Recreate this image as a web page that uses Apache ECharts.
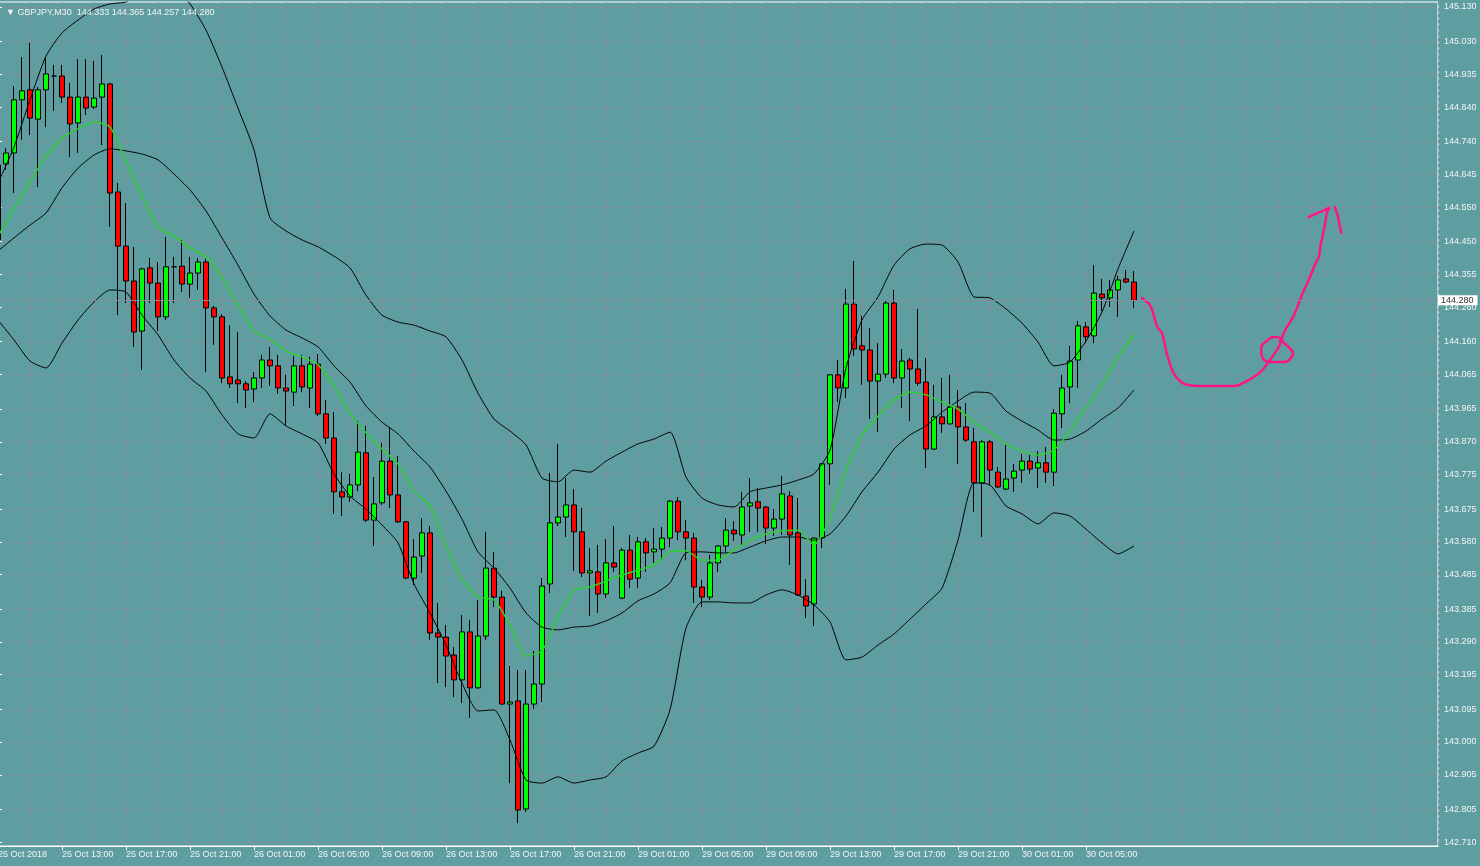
<!DOCTYPE html>
<html>
<head>
<meta charset="utf-8">
<title>GBPJPY,M30</title>
<script src="https://cdn.jsdelivr.net/npm/echarts@6/dist/echarts.min.js"></script>
<style>
  html, body { margin: 0; padding: 0; background: #5f9ea0; }
  #chart { width: 1480px; height: 866px; }
</style>
</head>
<body>
<div id="chart"></div>
<script>
// time labels, one every 8 bars (M30)
var timeLabels = ['25 Oct 2018', '25 Oct 13:00', '25 Oct 17:00', '25 Oct 21:00', '26 Oct 01:00', '26 Oct 05:00',
  '26 Oct 09:00', '26 Oct 13:00', '26 Oct 17:00', '26 Oct 21:00', '29 Oct 01:00', '29 Oct 05:00',
  '29 Oct 09:00', '29 Oct 13:00', '29 Oct 17:00', '29 Oct 21:00', '30 Oct 01:00', '30 Oct 05:00'];

// [open, close, low, high]
var candles = [
  [144.455,144.672,144.348,144.687],[144.675,144.707,144.658,144.721],[144.707,144.861,144.591,144.901],
  [144.861,144.887,144.745,144.985],[144.890,144.808,144.759,145.026],[144.805,144.890,144.608,144.898],
  [144.890,144.936,144.782,144.982],[144.930,144.930,144.829,144.962],[144.930,144.869,144.852,144.962],
  [144.869,144.791,144.695,144.910],[144.794,144.869,144.707,144.979],[144.869,144.837,144.817,144.979],
  [144.840,144.866,144.834,144.974],[144.869,144.907,144.730,144.991],[144.907,144.591,144.493,144.910],
  [144.594,144.437,144.237,144.620],[144.437,144.336,144.272,144.562],[144.336,144.188,144.145,144.435],
  [144.191,144.371,144.078,144.374],[144.374,144.330,144.272,144.403],[144.330,144.232,144.191,144.391],
  [144.232,144.377,144.223,144.464],[144.377,144.377,144.272,144.406],[144.379,144.327,144.304,144.455],
  [144.327,144.359,144.287,144.406],[144.359,144.391,144.310,144.403],[144.391,144.258,144.072,144.400],
  [144.258,144.232,144.151,144.264],[144.232,144.055,144.040,144.240],[144.058,144.038,144.026,144.208],
  [144.049,144.038,143.982,144.188],[144.038,144.020,143.968,144.046],[144.023,144.055,143.985,144.072],
  [144.055,144.107,144.026,144.122],[144.107,144.090,144.032,144.145],[144.090,144.026,144.009,144.122],
  [144.026,144.017,143.916,144.064],[144.014,144.090,143.974,144.119],[144.090,144.029,144.014,144.122],
  [144.026,144.095,143.968,144.116],[144.095,143.951,143.945,144.124],[143.951,143.881,143.864,143.991],
  [143.881,143.725,143.661,143.956],[143.725,143.710,143.655,143.782],[143.710,143.745,143.696,143.777],
  [143.745,143.840,143.727,143.930],[143.838,143.643,143.638,143.916],[143.643,143.690,143.568,143.768],
  [143.693,143.814,143.687,143.867],[143.814,143.716,143.678,143.913],[143.716,143.638,143.635,143.829],
  [143.638,143.475,143.472,143.640],[143.475,143.536,143.455,143.588],[143.539,143.606,143.490,143.649],
  [143.606,143.316,143.296,143.626],[143.316,143.304,143.171,143.403],[143.304,143.249,143.159,143.339],
  [143.252,143.180,143.130,143.275],[143.180,143.319,143.113,143.368],[143.319,143.157,143.070,143.354],
  [143.157,143.307,143.154,143.412],[143.307,143.504,143.296,143.609],[143.504,143.420,143.391,143.551],
  [143.420,143.110,143.108,143.438],[143.110,143.116,142.881,143.220],[143.119,142.803,142.765,143.209],
  [142.806,143.110,142.797,143.209],[143.110,143.168,143.096,143.264],[143.168,143.452,143.116,143.475],
  [143.458,143.635,143.432,143.780],[143.635,143.652,143.626,143.864],[143.652,143.687,143.594,143.765],
  [143.687,143.609,143.496,143.733],[143.609,143.490,143.478,143.678],[143.490,143.496,143.365,143.562],
  [143.493,143.429,143.374,143.571],[143.429,143.519,143.417,143.588],[143.519,143.507,143.493,143.626],
  [143.417,143.556,143.414,143.562],[143.556,143.472,143.446,143.600],[143.475,143.580,143.446,143.594],
  [143.580,143.548,143.493,143.591],[143.551,143.559,143.519,143.620],[143.559,143.591,143.527,143.623],
  [143.591,143.698,143.565,143.701],[143.698,143.609,143.585,143.710],[143.609,143.591,143.527,143.643],
  [143.591,143.449,143.403,143.606],[143.449,143.420,143.391,143.470],[143.420,143.519,143.412,143.542],
  [143.519,143.568,143.493,143.570],[143.568,143.614,143.551,143.649],[143.614,143.603,143.583,143.640],
  [143.600,143.681,143.568,143.725],[143.684,143.693,143.609,143.765],[143.696,143.678,143.609,143.736],
  [143.681,143.620,143.574,143.684],[143.620,143.646,143.597,143.675],[143.646,143.719,143.600,143.771],
  [143.713,143.600,143.513,143.727],[143.606,143.426,143.424,143.707],[143.423,143.394,143.359,143.472],
  [143.400,143.591,143.336,143.593],[143.591,143.806,143.562,143.808],[143.806,144.064,143.745,144.066],
  [144.064,144.026,143.985,144.107],[144.026,144.269,143.997,144.313],[144.269,144.139,144.119,144.394],
  [144.148,144.136,144.035,144.235],[144.136,144.046,143.936,144.200],[144.046,144.066,143.898,144.156],
  [144.066,144.272,144.055,144.281],[144.272,144.055,144.040,144.310],[144.055,144.104,143.968,144.139],
  [144.107,144.081,143.930,144.113],[144.081,144.040,144.032,144.255],[144.043,143.849,143.794,144.113],
  [143.849,143.942,143.846,144.035],[143.942,143.922,143.896,144.055],[143.922,143.971,143.919,144.064],
  [143.971,143.913,143.806,144.020],[143.913,143.875,143.870,143.982],[143.870,143.751,143.667,143.910],
  [143.751,143.870,143.594,143.875],[143.870,143.788,143.742,143.875],[143.782,143.739,143.736,143.797],
  [143.733,143.762,143.730,143.861],[143.765,143.785,143.725,143.806],[143.788,143.814,143.751,143.835],
  [143.814,143.791,143.777,143.832],[143.794,143.809,143.736,143.843],[143.809,143.782,143.751,143.855],
  [143.782,143.953,143.742,143.965],[143.951,144.026,143.910,144.064],[144.029,144.104,143.982,144.148],
  [144.107,144.206,144.026,144.220],[144.203,144.174,144.156,144.217],[144.177,144.301,144.156,144.382],
  [144.298,144.287,144.249,144.342],[144.287,144.310,144.261,144.339],[144.310,144.339,144.232,144.351],
  [144.342,144.333,144.330,144.368],[144.333,144.280,144.257,144.365]
];

// indicator lines, read every 2nd bar (bars 0, 2, 4 ... 142)
var upperBand = [144.620,144.724,144.861,144.988,145.055,145.092,145.124,145.139,145.145,145.179,145.203,145.185,
  145.139,145.063,144.956,144.837,144.716,144.519,144.481,144.455,144.435,144.408,144.374,144.295,144.237,144.217,
  144.208,144.191,144.174,144.107,144.011,143.936,143.901,143.861,143.765,143.754,143.788,143.782,143.814,143.840,
  143.864,143.878,143.898,143.768,143.707,143.687,143.681,143.725,143.736,143.745,143.759,143.777,143.846,144.084,
  144.223,144.290,144.382,144.429,144.443,144.440,144.391,144.290,144.287,144.255,144.214,144.159,144.090,144.101,
  144.162,144.246,144.371,144.481];
var middleBand = [144.423,144.461,144.498,144.533,144.606,144.663,144.701,144.719,144.713,144.704,144.687,144.646,
  144.600,144.539,144.461,144.382,144.298,144.235,144.194,144.171,144.145,144.090,144.043,143.974,143.927,143.893,
  143.843,143.797,143.727,143.646,143.551,143.504,143.446,143.374,143.333,143.325,143.333,143.336,143.351,143.374,
  143.409,143.429,143.461,143.548,143.551,143.548,143.548,143.565,143.583,143.594,143.594,143.585,143.603,143.655,
  143.725,143.782,143.849,143.890,143.916,143.956,143.988,144.014,144.011,143.959,143.930,143.904,143.875,143.878,
  143.901,143.936,143.968,144.020];
var lowerBand = [144.223,144.165,144.104,144.084,144.156,144.223,144.275,144.310,144.304,144.237,144.180,144.107,
  144.055,144.017,143.948,143.893,143.881,143.951,143.916,143.893,143.867,143.777,143.713,143.675,143.629,143.577,
  143.458,143.374,143.281,143.171,143.090,143.093,143.006,142.890,142.881,142.899,142.881,142.890,142.899,142.945,
  142.968,142.988,143.093,143.330,143.406,143.406,143.403,143.403,143.426,143.441,143.426,143.397,143.348,143.238,
  143.246,143.281,143.313,143.356,143.400,143.446,143.585,143.751,143.745,143.684,143.661,143.632,143.664,143.655,
  143.617,143.577,143.545,143.568];
var fastMA = [144.466,144.545,144.623,144.698,144.750,144.777,144.797,144.782,144.684,144.582,144.493,144.466,
  144.432,144.406,144.345,144.266,144.191,144.168,144.133,144.116,144.093,144.032,143.953,143.896,143.849,143.806,
  143.727,143.684,143.568,143.472,143.420,143.412,143.339,143.249,143.264,143.362,143.441,143.449,143.467,143.484,
  143.498,143.513,143.551,143.554,143.527,143.527,143.556,143.585,143.603,143.612,143.614,143.571,143.649,143.788,
  143.890,143.945,143.991,144.014,144.006,143.985,143.965,143.927,143.898,143.864,143.843,143.832,143.846,143.901,
  143.968,144.035,144.116,144.180];

var priceTicks = [145.130,145.030,144.935,144.840,144.740,144.645,144.550,144.450,144.355,144.260,144.160,144.065,
  143.965,143.870,143.775,143.675,143.580,143.485,143.385,143.290,143.195,143.095,143.000,142.905,142.805,142.710];

// hand drawn arrow, [bar position, price]
var penStroke = [[143.0,144.287],[144.0,144.266],[144.4,144.243],[144.9,144.203],[145.5,144.185],[146.1,144.127],
  [146.9,144.072],[148.1,144.040],[150.0,144.032],[154.6,144.032],[156.1,144.046],[157.8,144.072],[158.8,144.101],
  [159.6,144.127],[160.3,144.159],[160.3,144.171],[159.4,144.174],[158.4,144.159],[157.9,144.145],[158.0,144.116],
  [158.8,144.101],[160.9,144.101],[161.9,144.127],[161.3,144.145],[160.5,144.165],[160.9,144.194],[161.9,144.232],
  [162.5,144.266],[163.1,144.301],[164.0,144.348],[164.6,144.382],[165.1,144.406],[165.3,144.435],[165.6,144.469],
  [165.9,144.504],[166.1,144.533],[166.4,144.548],[163.8,144.521]];
var penBarb = [[167.1,144.550],[167.5,144.521],[167.9,144.475]];

var slots = [];
for (var i = 0; i <= 180; i++) slots.push(String(i));

function everyOther(arr) {
  return arr.map(function (v, i) { return [i * 2, v]; });
}

function hasTimeLabel(idx) {
  return idx % 8 === 0 && idx / 8 < timeLabels.length;
}

var gridColor = '#8e8a9c';
var textColor = '#f4f4f4';
var last = candles[candles.length - 1];

var chart = echarts.init(document.getElementById('chart'));
var option = {
  backgroundColor: '#5f9ea0',
  animation: false,
  textStyle: { fontFamily: 'Liberation Sans' },
  title: {
    text: '\u25BC GBPJPY,M30  ' + [last[0], last[3], last[2], last[1]].map(function (v) { return v.toFixed(3); }).join(' '),
    left: 1,
    top: 3,
    textStyle: { color: textColor, fontSize: 9, fontWeight: 'normal', fontFamily: 'Liberation Sans' }
  },
  grid: {
    left: -2, right: 42, top: 2, bottom: 20,
    show: true, borderColor: '#ffffff', borderWidth: 1,
    containLabel: false, outerBoundsMode: 'none'
  },
  xAxis: [
    {
      type: 'category',
      data: slots,
      boundaryGap: false,
      axisLine: { show: true, lineStyle: { color: '#ffffff' } },
      axisTick: { show: true, interval: hasTimeLabel, length: 4, lineStyle: { color: '#ffffff' } },
      axisLabel: {
        interval: hasTimeLabel, align: 'left', margin: 4, color: textColor, fontSize: 9,
        formatter: function (v, idx) { return timeLabels[idx / 8] || ''; }
      },
      splitLine: { show: true, interval: 3, lineStyle: { color: gridColor, type: [3, 3], width: 1 } }
    },
    { type: 'value', min: 0, max: 180, show: false }
  ],
  yAxis: {
    type: 'value',
    position: 'right',
    min: 142.6986,
    max: 145.1445,
    axisLine: { show: true, lineStyle: { color: '#ffffff' } },
    axisTick: { show: true, length: 4, customValues: priceTicks, lineStyle: { color: '#ffffff' } },
    axisLabel: {
      customValues: priceTicks, margin: 6, color: textColor, fontSize: 9,
      formatter: function (v) { return v.toFixed(3); }
    },
    splitLine: { show: true, lineStyle: { color: gridColor, type: [3, 3], width: 1 } }
  },
  series: [
    {
      type: 'candlestick',
      data: candles,
      barWidth: 5,
      silent: true,
      itemStyle: {
        color: '#00ff00', color0: '#ff0000',
        borderColor: '#000000', borderColor0: '#000000', borderColorDoji: '#000000', borderWidth: 1
      },
      markLine: {
        silent: true,
        symbol: 'none',
        lineStyle: { color: '#8c8a98', type: 'solid', width: 1 },
        label: {
          show: true, position: 'end', distance: 0,
          formatter: function () { return last[1].toFixed(3); },
          color: '#333333', backgroundColor: '#ffffff', padding: [1, 4, 0, 3], fontSize: 9
        },
        data: [{ yAxis: last[1] }]
      }
    },
    {
      type: 'line', name: 'upper', data: everyOther(upperBand), symbol: 'none', smooth: 0.2, silent: true,
      lineStyle: { color: '#000000', width: 1 }
    },
    {
      type: 'line', name: 'middle', data: everyOther(middleBand), symbol: 'none', smooth: 0.2, silent: true,
      lineStyle: { color: '#000000', width: 1 }
    },
    {
      type: 'line', name: 'lower', data: everyOther(lowerBand), symbol: 'none', smooth: 0.2, silent: true,
      lineStyle: { color: '#000000', width: 1 }
    },
    {
      type: 'line', name: 'ma', data: everyOther(fastMA), symbol: 'none', smooth: 0.2, silent: true,
      lineStyle: { color: '#2ed12e', width: 1.5 }
    },
    {
      type: 'line', xAxisIndex: 1, data: penStroke, symbol: 'none', smooth: 0.3, silent: true,
      lineStyle: { color: '#ff1486', width: 2.5, cap: 'round', join: 'round' }
    },
    {
      type: 'line', xAxisIndex: 1, data: penBarb, symbol: 'none', smooth: 0.3, silent: true,
      lineStyle: { color: '#ff1486', width: 2.5, cap: 'round' }
    }
  ]
};
chart.setOption(option);
</script>
</body>
</html>
